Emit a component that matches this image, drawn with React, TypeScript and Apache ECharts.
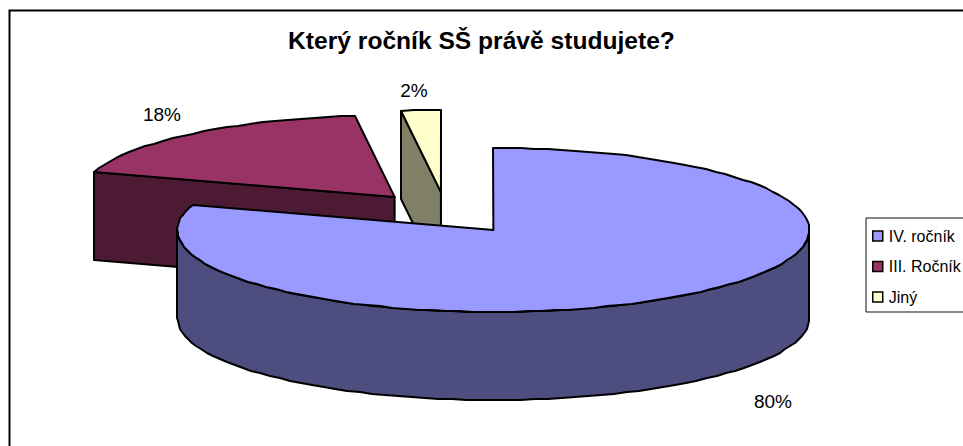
import React, { useEffect, useRef } from "react";
import * as echarts from "echarts";

const categories = ["IV. ročník", "III. Ročník", "Jiný"];
const values = [80, 18, 2];
const tickLabels = ["80%", "18%", "2%"];
const title = "Který ročník SŠ právě studujete?";

const topColors = ["#9999FF", "#993366", "#FFFFCC"];
const sideColors = ["#4D4D80", "#4D1A33", "#808066"];
const labelAnchors = [[773, 401], [162, 114], [414, 90]];

const CX = 446;
const CY = 213;
const RX = 316;
const RY = 82;
const DEPTH = 88;
const EXPLODE = 0.255;
const STROKE = { stroke: "#000", lineWidth: 2, lineJoin: "round" as const };

const total = values.reduce((a, b) => a + b, 0);

function point(ox: number, oy: number, deg: number) {
  const r = (deg * Math.PI) / 180;
  return [Math.round(ox + RX * Math.sin(r)), Math.round(oy - RY * Math.cos(r))];
}

function arc(ox: number, oy: number, from: number, to: number) {
  const pts: number[][] = [];
  const n = Math.max(2, Math.ceil((to - from) / 2.5));
  for (let i = 0; i <= n; i++) pts.push(point(ox, oy, from + ((to - from) * i) / n));
  return pts;
}

function renderSlice(index: number, api: any) {
  const value = api.value(0);
  const before = values.slice(0, index).reduce((a, b) => a + b, 0);
  const a = (before / total) * 360;
  const b = a + (value / total) * 360;
  const mid = ((a + b) / 2) * (Math.PI / 180);
  const ox = CX + EXPLODE * RX * Math.sin(mid);
  const oy = CY - EXPLODE * RY * Math.cos(mid);
  const children: any[] = [];
  const side = { fill: sideColors[index], ...STROKE };
  const wall = (deg: number) => {
    const p = point(ox, oy, deg);
    children.push({
      type: "polygon",
      shape: { points: [[ox, oy], p, [p[0], p[1] + DEPTH], [ox, oy + DEPTH]] },
      style: side,
    });
  };
  if (Math.sin((a * Math.PI) / 180) < -1e-6) wall(a);
  if (Math.sin((b * Math.PI) / 180) > 1e-6) wall(b);
  const s = Math.max(a, 90);
  const e = Math.min(b, 270);
  if (e > s) {
    const front = arc(ox, oy, s, e);
    const low = front.map((p) => [p[0], p[1] + DEPTH]).reverse();
    children.push({ type: "polygon", shape: { points: [...front, ...low] }, style: side });
  }
  children.push({
    type: "polygon",
    shape: { points: [[ox, oy], ...arc(ox, oy, a, b)] },
    style: { fill: topColors[index], ...STROKE },
  });
  children.push({
    type: "text",
    style: {
      x: labelAnchors[index][0],
      y: labelAnchors[index][1],
      text: tickLabels[index],
      fill: "#000",
      font: "19px 'Liberation Sans'",
      align: "center",
      verticalAlign: "middle",
    },
  });
  return { type: "group", children };
}

export default function App() {
  const ref = useRef<HTMLDivElement>(null);
  useEffect(() => {
    const chart = echarts.init(ref.current!, null, { renderer: "svg" });
    chart.setOption({
      animation: false,
      backgroundColor: "#fff",
      title: {
        text: title,
        left: 481.5,
        top: 28,
        textAlign: "center",
        padding: 0,
        textStyle: { fontFamily: "Liberation Sans", fontWeight: "bold", fontSize: 24.6, color: "#000" },
      },
      legend: {
        orient: "vertical",
        left: 866,
        top: 218,
        width: 110,
        padding: [10, 6, 7, 6],
        itemGap: 14.5,
        itemWidth: 10,
        itemHeight: 10,
        data: categories,
        icon: "rect",
        backgroundColor: "#fff",
        borderColor: "#111",
        borderWidth: 1,
        itemStyle: { borderColor: "#000", borderWidth: 1.5 },
        textStyle: { fontFamily: "Liberation Sans", fontSize: 16, color: "#000", padding: [0, 0, 0, 1] },
      },
      graphic: [
        {
          type: "polyline",
          silent: true,
          shape: { points: [[9.5, 446], [9.5, 10.5], [963, 10.5]] },
          style: { stroke: "#000", lineWidth: 2, fill: "none" },
        },
      ],
      series: categories.map((name, i) => ({
        type: "custom",
        name,
        coordinateSystem: "none",
        z: 10 - i + (i === 0 ? 5 : 0),
        itemStyle: { color: topColors[i] },
        data: [[values[i]]],
        renderItem: (_p: any, api: any) => renderSlice(i, api),
      })),
    });
    return () => chart.dispose();
  }, []);
  return <div ref={ref} style={{ position: "fixed", left: 0, top: 0, width: 963, height: 446 }} />;
}
